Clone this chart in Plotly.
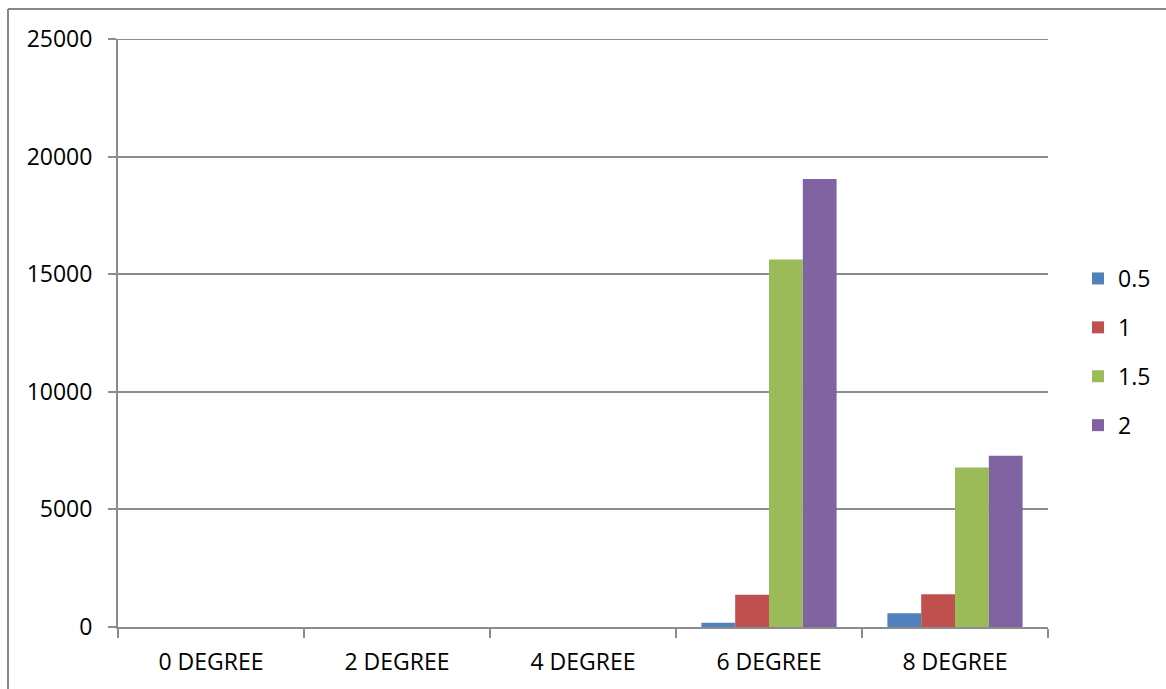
import plotly.graph_objects as go

# Categories and series values
categories = ["0 DEGREE", "2 DEGREE", "4 DEGREE", "6 DEGREE", "8 DEGREE"]
series_names = ["0.5", "1", "1.5", "2"]
values_05 = [0, 0, 0, 180, 585]
values_1 = [0, 0, 0, 1370, 1390]
values_15 = [0, 0, 0, 15630, 6780]
values_2 = [0, 0, 0, 19050, 7280]
y_ticks = [0, 5000, 10000, 15000, 20000, 25000]

colors = ["#4F81BD", "#C0504D", "#9BBB59", "#8064A2"]
all_values = [values_05, values_1, values_15, values_2]

W, H = 1166, 689
L, R, T, B = 118, 118, 39, 62
plot_w = W - L - R
plot_h = H - T - B
grid_col = "#8c8c8c"
font_family = "Open Sans, Liberation Sans, sans-serif"

fig = go.Figure()
for name, vals, col in zip(series_names, all_values, colors):
    fig.add_trace(go.Bar(
        x=categories, y=vals, name=name, legendgroup=name,
        marker=dict(color=col, line=dict(width=0)),
    ))


def px_x(px):
    return (px - L) / plot_w


def px_y(py):
    return (H - B - py) / plot_h


# Outer chart-area border (top and left edges)
border = dict(color="#868686", width=2)
fig.add_shape(type="line", xref="paper", yref="paper",
              x0=px_x(8), x1=px_x(1200), y0=px_y(9), y1=px_y(9), line=border)
fig.add_shape(type="line", xref="paper", yref="paper",
              x0=px_x(8), x1=px_x(8), y0=px_y(9), y1=px_y(720), line=border)

# Gridline at the top of the value range
fig.add_shape(type="line", xref="paper", yref="y", layer="below",
              x0=0, x1=1, y0=y_ticks[-1], y1=y_ticks[-1],
              line=dict(color=grid_col, width=2))

fig.update_layout(
    width=W, height=H,
    margin=dict(l=L, r=R, t=T, b=B, pad=0, autoexpand=False),
    paper_bgcolor="white", plot_bgcolor="white",
    barmode="group", bargap=0.273, bargroupgap=0,
    font=dict(family=font_family, size=23, color="black"),
    showlegend=True,
    legend=dict(
        x=px_x(1078), xanchor="left",
        y=px_y(352), yanchor="middle",
        font=dict(size=23), tracegroupgap=16,
        bgcolor="rgba(0,0,0,0)",
    ),
    xaxis=dict(
        type="category", tickson="boundaries",
        ticks="outside", ticklen=9, tickwidth=2, tickcolor=grid_col,
        showline=True, linecolor=grid_col, linewidth=2,
        showgrid=False, zeroline=False,
        ticklabelstandoff=13, automargin=False,
    ),
    yaxis=dict(
        range=[0, 25000], tickvals=y_ticks,
        ticktext=[str(v) for v in y_ticks],
        ticks="outside", ticklen=8, tickwidth=2, tickcolor=grid_col,
        showline=True, linecolor=grid_col, linewidth=2,
        showgrid=True, gridcolor=grid_col, gridwidth=2,
        zeroline=False, ticklabelstandoff=11, automargin=False,
    ),
)

fig.write_html("out.html")
